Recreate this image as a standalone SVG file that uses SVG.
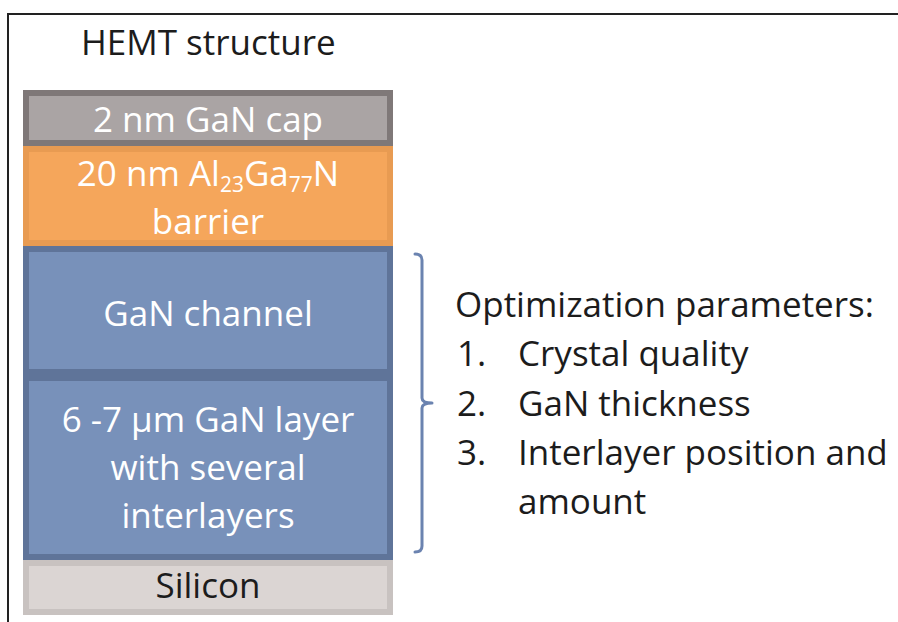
<svg xmlns="http://www.w3.org/2000/svg" width="898" height="622" viewBox="0 0 898 622">
  <style>
    text { font-family: "Open Sans", "Noto Sans", "Liberation Sans", sans-serif; font-size: 35px; }
    .dark { fill: #1c1c1c; }
    .light { fill: #ffffff; text-anchor: middle; }
    .mid { text-anchor: middle; }
    .sub { font-size: 21px; }
    .layer { stroke-width: 6; }
    .cap { fill: #aaa4a4; stroke: #7f7878; }
    .barrier { fill: #f5a65b; stroke: #e89b52; }
    .gan { fill: #7891ba; stroke: #5f7499; }
    .si { fill: #dbd5d3; stroke: #c8c2c0; }
    .frame { stroke: #222222; stroke-width: 2; fill: none; }
    .brace { stroke: #6b83b0; stroke-width: 3; fill: none; stroke-linecap: round; stroke-linejoin: round; }
  </style>

  <rect width="898" height="622" fill="#ffffff"/>

  <!-- panel frame: top and left edges -->
  <path class="frame" d="M8 622 V14 H898"/>

  <!-- heading -->
  <g id="title">
    <text class="dark" x="81" y="55">HEMT structure</text>
  </g>

  <!-- layer stack, top to bottom -->
  <g id="cap-layer">
    <rect class="layer cap" x="26" y="93" width="364" height="50"/>
    <text class="light" x="208" y="132">2 nm GaN cap</text>
  </g>

  <g id="barrier-layer">
    <rect class="layer barrier" x="26" y="149" width="364" height="94"/>
    <text class="light" x="208" y="186">20 nm Al<tspan class="sub" dy="6">23</tspan><tspan dy="-6">Ga</tspan><tspan class="sub" dy="6">77</tspan><tspan dy="-6">N</tspan></text>
    <text class="light" x="208" y="234">barrier</text>
  </g>

  <g id="channel-layer">
    <rect class="layer gan" x="26" y="249" width="364" height="123"/>
    <text class="light" x="208" y="326">GaN channel</text>
  </g>

  <g id="buffer-layer">
    <rect class="layer gan" x="26" y="378" width="364" height="179"/>
    <text class="light" x="208" y="432">6 -7 µm GaN layer</text>
    <text class="light" x="208" y="480">with several</text>
    <text class="light" x="208" y="528">interlayers</text>
  </g>

  <g id="substrate-layer">
    <rect class="layer si" x="26" y="563" width="364" height="49"/>
    <text class="dark mid" x="208" y="598">Silicon</text>
  </g>

  <!-- brace grouping channel and buffer -->
  <g id="connectors">
    <path class="brace" d="M415 254 Q422 254 422 260 V398 Q422 403 432 403 Q422 403 422 408 V546 Q422 552 415 552"/>
  </g>

  <!-- parameter list -->
  <g id="parameters">
    <text class="dark" x="455" y="317">Optimization parameters:</text>
    <text class="dark" x="457" y="366">1.</text>
    <text class="dark" x="518" y="366">Crystal quality</text>
    <text class="dark" x="457" y="416">2.</text>
    <text class="dark" x="518" y="416">GaN thickness</text>
    <text class="dark" x="457" y="465">3.</text>
    <text class="dark" x="518" y="465">Interlayer position and</text>
    <text class="dark" x="518" y="514">amount</text>
  </g>
</svg>
